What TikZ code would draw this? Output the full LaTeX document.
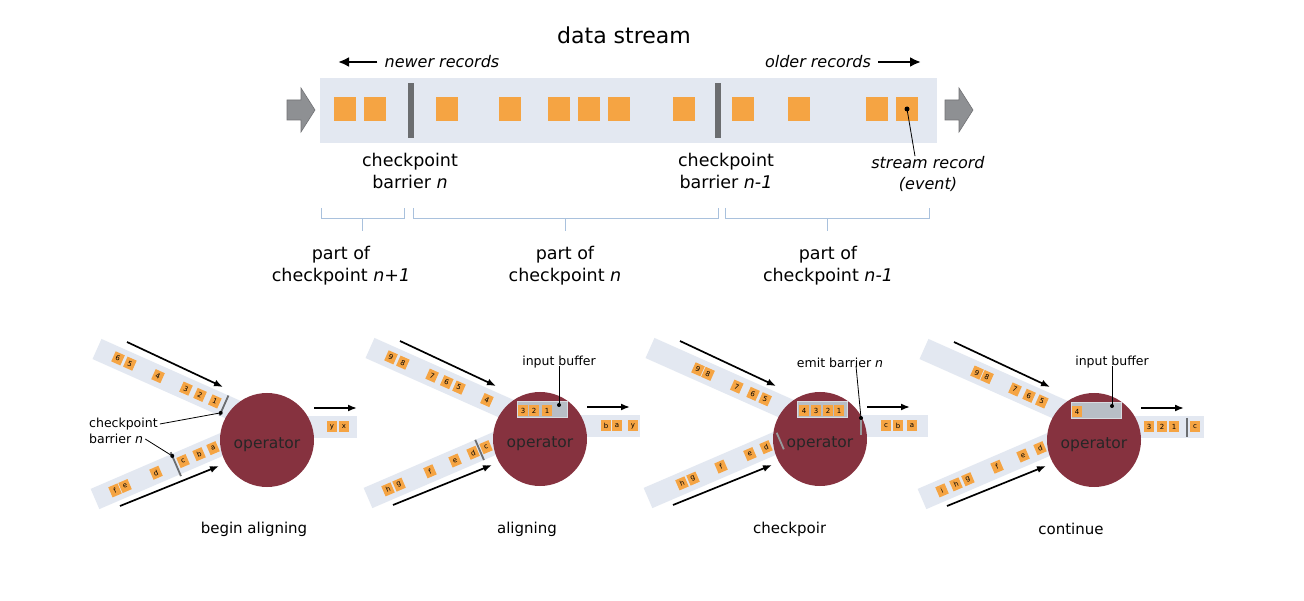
\documentclass[tikz,border=0pt]{standalone}
\usepackage{fontspec}
\setmainfont{DejaVu Sans}
\usetikzlibrary{positioning,calc,arrows.meta}

\definecolor{bandblue}{HTML}{E3E8F1}
\definecolor{recorange}{HTML}{F5A443}
\definecolor{barriergray}{HTML}{6B6D70}
\definecolor{arrowgray}{HTML}{8E9093}
\definecolor{opred}{HTML}{86323F}
\definecolor{bufgray}{HTML}{B8BEC6}
\definecolor{bracecol}{HTML}{A9C1DD}

\tikzset{
  rec/.style={fill=recorange, minimum width=22pt, minimum height=24pt, inner sep=0pt},
  tinyrec/.style={fill=recorange, minimum width=10pt, minimum height=11pt, inner sep=0pt,
    font=\fontsize{7}{7}\selectfont},
  bigbar/.style={fill=barriergray, minimum width=6pt, minimum height=55pt, inner sep=0pt},
  thinbar/.style={draw=barriergray, line width=1.8pt},
  flow/.style={-{Latex[length=9pt,width=7pt]}, line width=1.7pt},
  bigflow/.style={-{Latex[length=11pt,width=10pt]}, line width=2.4pt},
  lbl/.style={font=\fontsize{17.5}{22}\selectfont, align=center, inner sep=0pt},
  ilbl/.style={font=\fontsize{16}{21}\selectfont\itshape, align=center, inner sep=0pt},
  smalllbl/.style={font=\fontsize{12.5}{15}\selectfont, inner sep=0pt},
  opcircle/.style={circle, fill=opred, minimum size=94pt, inner sep=0pt},
  optext/.style={font=\fontsize{15.5}{18}\selectfont, text=black!85, inner sep=0pt},
  buffer/.style={fill=bufgray, draw=bufgray!55, line width=1pt, minimum width=50pt,
    minimum height=16pt, inner sep=0pt},
  caption/.style={font=\fontsize{15}{18}\selectfont, inner sep=0pt},
  leader/.style={line width=0.8pt},
}

\begin{document}
\begin{tikzpicture}[x=1pt,y=-1pt]
\fill[white] (0,0) rectangle (1304,601);
\useasboundingbox (0,0) rectangle (1304,601);

% the data stream
\node[font=\fontsize{22}{26}\selectfont, inner sep=0pt] (title) at (624,35) {data stream};
\fill[bandblue] (320,78) rectangle (937,143);
\foreach \x [count=\i] in {345,375,447,510,559,589,619,684,743,799,877,907}
  \node[rec] (r\i) at (\x,109) {};
\node[bigbar] (bn) at (411,110.5) {};
\node[bigbar] (bm) at (718,110.5) {};
\foreach \x in {287,945}
  \filldraw[fill=arrowgray, draw=arrowgray!80!black, line width=0.6pt, shift={(\x,0)}]
    (0,100) -- (14,100) -- (14,88) -- (28,110) -- (14,132) -- (14,120) -- (0,120) -- cycle;

\node[ilbl] (newer) at (442,62) {newer records};
\node[ilbl] (older) at (818,62) {older records};
\coordinate (newtip) at (338,62);
\coordinate (oldtip) at (921,62);
\draw[bigflow] ([xshift=-7pt]newer.west) -- (newtip);
\draw[bigflow] ([xshift=7pt]older.east) -- (oldtip);

\node[lbl] (cbn) at (410,171) {checkpoint\\barrier \textit{n}};
\node[lbl] (cbm) at (726,171) {checkpoint\\barrier \textit{n-1}};
\node[ilbl] (srec) at (928,174) {stream record\\(event)};
\fill (r12.center) circle (2.5);
\draw[leader] (r12.center) -- ($(srec.north)+(-13,0)$);

% which records belong to which checkpoint
\foreach \a/\b in {321/404,413/718,725/929}
  \draw[bracecol, line width=1pt] (\a,208) -- (\a,219) -- (\b,219) -- (\b,208)
    ({(\a+\b)/2},219) -- ({(\a+\b)/2},231);
\node[lbl] (pn1) at (341,266) {part of\\checkpoint \textit{n+1}};
\node[lbl] (pn) at (565,266) {part of\\checkpoint \textit{n}};
\node[lbl] (pm1) at (828,266) {part of\\checkpoint \textit{n-1}};

% panel 1: begin aligning
\begin{scope}[shift={(267,440)}]
  \fill[bandblue] (40,-24) rectangle (90,-2);
  \node[tinyrec] (o1y) at (65,-13) {y};
  \node[tinyrec] (o1x) at (77,-13) {x};
  \begin{scope}[shift={(-170,-91)}, rotate=-24, transform shape]
    \fill[bandblue] (0,-11) rectangle (156,11);
    \foreach \ps/\tx in {23/6,36/5,66.8/4,97.4/3,112.8/2,129/1}
      \node[tinyrec] (a1\tx) at (\ps,0) {\tx};
    \draw[thinbar] (139,-11) -- (139,11);
    \coordinate (a1bar) at (139,8);
  \end{scope}
  \begin{scope}[shift={(-172,59)}, rotate=23.3, transform shape]
    \fill[bandblue] (0,-11) rectangle (152,11);
    \foreach \ps/\tx in {21.8/f,32.7/e,66.4/d,95.9/c,113.3/b,128.5/a}
      \node[tinyrec] (b1\tx) at (\ps,0) {\tx};
    \draw[thinbar] (88,-13) -- (88,13);
    \coordinate (b1bar) at (88,-9);
  \end{scope}
  \coordinate (p1us) at (-140,-98); \coordinate (p1ue) at (-44,-53);
  \coordinate (p1ls) at (-147,66);  \coordinate (p1le) at (-48,26);
  \coordinate (p1os) at (47,-32);   \coordinate (p1oe) at (90,-32);
  \draw[flow] (p1us) -- (p1ue);
  \draw[flow] (p1ls) -- (p1le);
  \draw[flow] (p1os) -- (p1oe);
  \node[opcircle] (op1) at (0,0) {};
  \node[optext] (op1t) at (0,5) {operator};
\end{scope}
\node[smalllbl, anchor=west] (cp1) at (89,424) {checkpoint};
\node[smalllbl, anchor=west] (bb1) at (89,439) {barrier \textit{n}};
\draw[leader] ([xshift=2pt]cp1.east) -- (a1bar);
\draw[leader] ([xshift=2pt]bb1.east) -- (b1bar);
\fill (a1bar) circle (2);
\fill (b1bar) circle (2);
\node[caption] (cap1) at (254,529) {begin aligning};

% panel 2: aligning
\begin{scope}[shift={(540,439)}]
  \fill[bandblue] (40,-24) rectangle (100,-2);
  \node[tinyrec] (o2b) at (66,-13) {b};
  \node[tinyrec] (o2a) at (77,-13) {a};
  \node[tinyrec] (o2y) at (93,-13) {y};
  \begin{scope}[shift={(-170,-91)}, rotate=-24, transform shape]
    \fill[bandblue] (0,-11) rectangle (156,11);
    \foreach \ps/\tx in {23/9,36/8,68/7,84/6,97.4/5,128/4}
      \node[tinyrec] (a2\tx) at (\ps,0) {\tx};
  \end{scope}
  \begin{scope}[shift={(-172,59)}, rotate=23.3, transform shape]
    \fill[bandblue] (0,-11) rectangle (152,11);
    \foreach \ps/\tx in {21.8/h,33.8/g,67.5/f,94.8/e,114.4/d,128.5/c}
      \node[tinyrec] (b2\tx) at (\ps,0) {\tx};
    \draw[thinbar] (121.5,-11) -- (121.5,11);
  \end{scope}
  \coordinate (p2us) at (-140,-98); \coordinate (p2ue) at (-44,-53);
  \coordinate (p2ls) at (-147,66);  \coordinate (p2le) at (-48,26);
  \coordinate (p2os) at (47,-32);   \coordinate (p2oe) at (90,-32);
  \draw[flow] (p2us) -- (p2ue);
  \draw[flow] (p2ls) -- (p2le);
  \draw[flow] (p2os) -- (p2oe);
  \node[opcircle] (op2) at (0,0) {};
  \node[optext] (op2t) at (0,5) {operator};
  \node[buffer] (buf2) at (2,-29) {};
  \foreach \ps/\tx in {-17/3,-6/2,7/1}
    \node[tinyrec] (c2\tx) at (\ps,-28) {\tx};
  \node[smalllbl] (ib2) at (19,-77) {input buffer};
  \coordinate (ib2dot) at (19,-34);
  \draw[leader] ([yshift=2pt]ib2.south) -- (ib2dot);
  \fill (ib2dot) circle (2);
\end{scope}
\node[caption] (cap2) at (527,529) {aligning};

% panel 3: checkpoint
\begin{scope}[shift={(820,439)}]
  \fill[bandblue] (40,-24) rectangle (108,-2);
  \node[tinyrec] (o3c) at (66,-13) {c};
  \node[tinyrec] (o3b) at (78,-13) {b};
  \node[tinyrec] (o3a) at (92,-13) {a};
  \begin{scope}[shift={(-170,-91)}, rotate=-24, transform shape]
    \fill[bandblue] (0,-11) rectangle (156,11);
    \foreach \ps/\tx in {52.5/9,63.5/8,95/7,112.8/6,126/5}
      \node[tinyrec] (a3\tx) at (\ps,0) {\tx};
  \end{scope}
  \begin{scope}[shift={(-172,59)}, rotate=23.3, transform shape]
    \fill[bandblue] (0,-11) rectangle (152,11);
    \foreach \ps/\tx in {37/h,49/g,79.5/f,111/e,128.5/d}
      \node[tinyrec] (b3\tx) at (\ps,0) {\tx};
    \coordinate (b3bara) at (144,-9);
    \coordinate (b3barb) at (144,9);
  \end{scope}
  \coordinate (p3us) at (-140,-98); \coordinate (p3ue) at (-44,-53);
  \coordinate (p3ls) at (-147,66);  \coordinate (p3le) at (-48,26);
  \coordinate (p3os) at (47,-32);   \coordinate (p3oe) at (90,-32);
  \draw[flow] (p3us) -- (p3ue);
  \draw[flow] (p3ls) -- (p3le);
  \draw[flow] (p3os) -- (p3oe);
  \node[opcircle] (op3) at (0,0) {};
  \node[optext] (op3t) at (0,5) {operator};
  \draw[thinbar, barriergray!70] (b3bara) -- (b3barb);
  \node[buffer] (buf3) at (2,-29) {};
  \foreach \ps/\tx in {-16/4,-4/3,8/2,19/1}
    \node[tinyrec] (c3\tx) at (\ps,-28) {\tx};
  \coordinate (e3top) at (41,-21);
  \coordinate (e3bot) at (41,-4);
  \draw[thinbar, barriergray!70] (e3top) -- (e3bot);
  \node[smalllbl] (eb3) at (20,-76) {emit barrier \textit{n}};
  \draw[leader] ($(eb3.south)+(16,-2)$) -- (e3top);
  \fill (e3top) circle (2);
\end{scope}
\begin{scope}
  \clip (745,510) rectangle (825,550);
  \node[caption, anchor=west] (cap3) at (753,529) {checkpoint};
\end{scope}

% panel 4: continue
\begin{scope}[shift={(1094,440)}]
  \fill[bandblue] (40,-24) rectangle (110,-2);
  \foreach \ps/\tx in {55/3,68/2,80/1,101/c}
    \node[tinyrec] (o4\tx) at (\ps,-13) {\tx};
  \coordinate (o4bara) at (93,-22);
  \coordinate (o4barb) at (93,-3);
  \draw[thinbar] (o4bara) -- (o4barb);
  \begin{scope}[shift={(-170,-91)}, rotate=-24, transform shape]
    \fill[bandblue] (0,-11) rectangle (156,11);
    \foreach \ps/\tx in {58/9,69/8,99.6/7,115/6,129/5}
      \node[tinyrec] (a4\tx) at (\ps,0) {\tx};
  \end{scope}
  \begin{scope}[shift={(-172,59)}, rotate=23.3, transform shape]
    \fill[bandblue] (0,-11) rectangle (152,11);
    \foreach \ps/\tx in {21.8/i,37/h,50/g,81.7/f,110/e,128.5/d}
      \node[tinyrec] (b4\tx) at (\ps,0) {\tx};
  \end{scope}
  \coordinate (p4us) at (-140,-98); \coordinate (p4ue) at (-44,-53);
  \coordinate (p4ls) at (-147,66);  \coordinate (p4le) at (-48,26);
  \coordinate (p4os) at (47,-32);   \coordinate (p4oe) at (90,-32);
  \draw[flow] (p4us) -- (p4ue);
  \draw[flow] (p4ls) -- (p4le);
  \draw[flow] (p4os) -- (p4oe);
  \node[opcircle] (op4) at (0,0) {};
  \node[optext] (op4t) at (0,5) {operator};
  \node[buffer] (buf4) at (2,-29) {};
  \node[tinyrec] (c44) at (-17,-28) {4};
  \node[smalllbl] (ib4) at (18,-78) {input buffer};
  \coordinate (ib4dot) at (18,-34);
  \draw[leader] ([yshift=2pt]ib4.south) -- (ib4dot);
  \fill (ib4dot) circle (2);
\end{scope}
\node[caption] (cap4) at (1071,529) {continue};
\end{tikzpicture}
\end{document}
